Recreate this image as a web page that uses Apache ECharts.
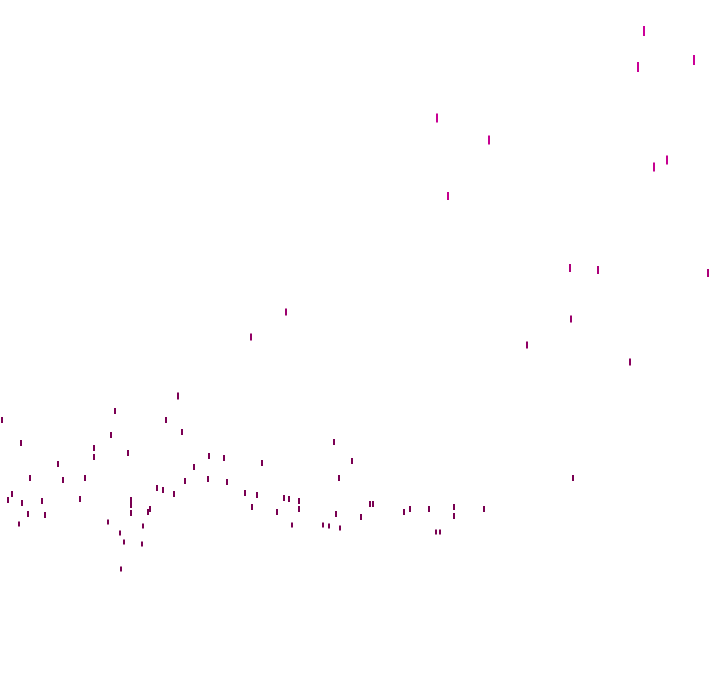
<!DOCTYPE html>
<html>
<head>
<meta charset="utf-8">
<script src="https://cdn.jsdelivr.net/npm/echarts@6/dist/echarts.min.js"></script>
<style>html,body{margin:0;padding:0;background:#fff;}#c{width:720px;height:692px;}</style>
</head>
<body>
<div id="c"></div>
<script>
var xValues = [644,638,694,437,489,654,667,448,570,598,708,286,571,251,527,630,178,2,115,166,
  21,111,182,94,334,128,94,209,224,352,262,58,194,30,63,85,208,185,227,339,573,157,163,12,174,245,257,
  8,42,80,22,131,131,284,289,299,370,373,252,150,148,299,277,410,404,429,454,484,28,45,131,336,361,454,
  108,19,143,292,323,329,340,120,436,440,124,142,121];
var yValues = [661,625,632,574,552,525,532,496,424,422,419,380,373,355,347,330,296,272,281,272,
  249,257,260,244,250,239,235,236,234,231,229,228,225,214,212,214,213,211,210,214,214,204,202,198,198,199,197,
  192,191,193,189,192,187,194,193,191,188,188,185,183,180,183,180,183,180,183,185,183,178,177,179,178,175,176,
  170,168,166,167,167,166,164,159,160,160,150,148,123];

var data = xValues.map(function (x, i) { return [x, yValues[i]]; });

var chart = echarts.init(document.getElementById('c'));
chart.setOption({
  animation: false,
  backgroundColor: '#ffffff',
  grid: { left: 0, right: 0, top: 0, bottom: 0 },
  xAxis: { type: 'value', min: 0, max: 720, show: false },
  yAxis: { type: 'value', min: 0, max: 692, show: false },
  visualMap: {
    show: false,
    type: 'continuous',
    dimension: 1,
    min: 120,
    max: 660,
    inRange: { color: ['#780050', '#7c0054', '#c4008c', '#cc0099'] }
  },
  series: [{
    type: 'scatter',
    symbol: 'rect',
    itemStyle: { opacity: 1 },
    symbolSize: function (v) {
      var h = Math.round(5 + 5 * Math.max(0, Math.min(1, (v[1] - 120) / 540)));
      return [2, h];
    },
    data: data
  }]
});
</script>
</body>
</html>
